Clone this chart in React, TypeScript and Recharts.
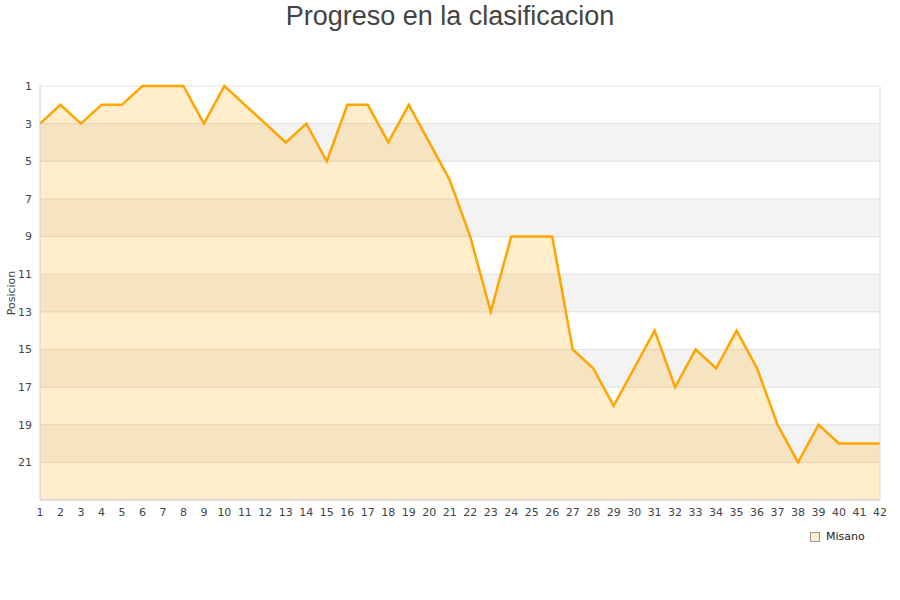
import { Area, AreaChart, CartesianGrid, Legend, ReferenceLine, XAxis, YAxis } from 'recharts'

const jornadas = [
  1, 2, 3, 4, 5, 6, 7, 8, 9, 10, 11, 12, 13, 14, 15, 16, 17, 18, 19, 20, 21,
  22, 23, 24, 25, 26, 27, 28, 29, 30, 31, 32, 33, 34, 35, 36, 37, 38, 39, 40, 41, 42,
]
const posiciones = [
  3, 2, 3, 2, 2, 1, 1, 1, 3, 1, 2, 3, 4, 3, 5, 2, 2, 4, 2, 4, 6,
  9, 13, 9, 9, 9, 15, 16, 18, 16, 14, 17, 15, 16, 14, 16, 19, 21, 19, 20, 20, 20,
]
const yTicks = [1, 3, 5, 7, 9, 11, 13, 15, 17, 19, 21]
const equipo = 'Misano'

const data = jornadas.map((j, i) => ({ jornada: j, pos: posiciones[i] }))

const tickStyle = { fill: '#444', fontSize: 11, fontFamily: 'DejaVu Sans' }

function MisanoLegend() {
  return (
    <div style={{ display: 'flex', alignItems: 'center', fontFamily: 'DejaVu Sans', fontSize: 11, color: '#222' }}>
      <span
        style={{
          display: 'inline-block',
          width: 8,
          height: 8,
          background: '#ffedcc',
          border: '1px solid #999',
          marginRight: 6,
        }}
      />
      {equipo}
    </div>
  )
}

export default function App() {
  return (
    <div style={{ position: 'absolute', left: 0, top: 0, width: 900, height: 600, background: '#fff' }}>
      <AreaChart width={900} height={600} data={data} margin={{ top: 86, right: 20, left: 0, bottom: 57 }}>
        <CartesianGrid
          vertical={false}
          stroke="#e0e0e0"
          horizontalFill={['#ffffff', '#f3f3f3']}
          fillOpacity={1}
        />
        <XAxis
          dataKey="jornada"
          interval={0}
          tick={tickStyle}
          tickLine={false}
          axisLine={{ stroke: '#d0d0d0' }}
          height={30}
        />
        <YAxis
          reversed
          domain={[1, 23]}
          ticks={yTicks}
          interval={0}
          width={40}
          tick={tickStyle}
          tickLine={false}
          axisLine={{ stroke: '#d0d0d0' }}
        />
        <ReferenceLine x={42} stroke="#dddddd" />
        <Area
          type="linear"
          dataKey="pos"
          name={equipo}
          stroke="#ffa500"
          strokeWidth={2.5}
          fill="#ffa500"
          fillOpacity={0.2}
          baseValue={23}
          dot={false}
          activeDot={false}
          isAnimationActive={false}
        />
        <Legend
          content={<MisanoLegend />}
          wrapperStyle={{ position: 'absolute', left: 810, top: 530, width: 80 }}
        />
      </AreaChart>
      <div
        style={{
          position: 'absolute',
          top: 0,
          left: 0,
          width: 900,
          textAlign: 'center',
          fontFamily: 'Liberation Sans',
          fontSize: 27,
          color: '#444',
          lineHeight: '32px',
          zIndex: 2,
        }}
      >
        Progreso en la clasificacion
      </div>
      <div
        style={{
          position: 'absolute',
          left: 11,
          top: 293,
          transform: 'translate(-50%, -50%) rotate(-90deg)',
          fontFamily: 'DejaVu Sans',
          fontSize: 11,
          color: '#444',
          whiteSpace: 'nowrap',
          zIndex: 2,
        }}
      >
        Posicion
      </div>
    </div>
  )
}
